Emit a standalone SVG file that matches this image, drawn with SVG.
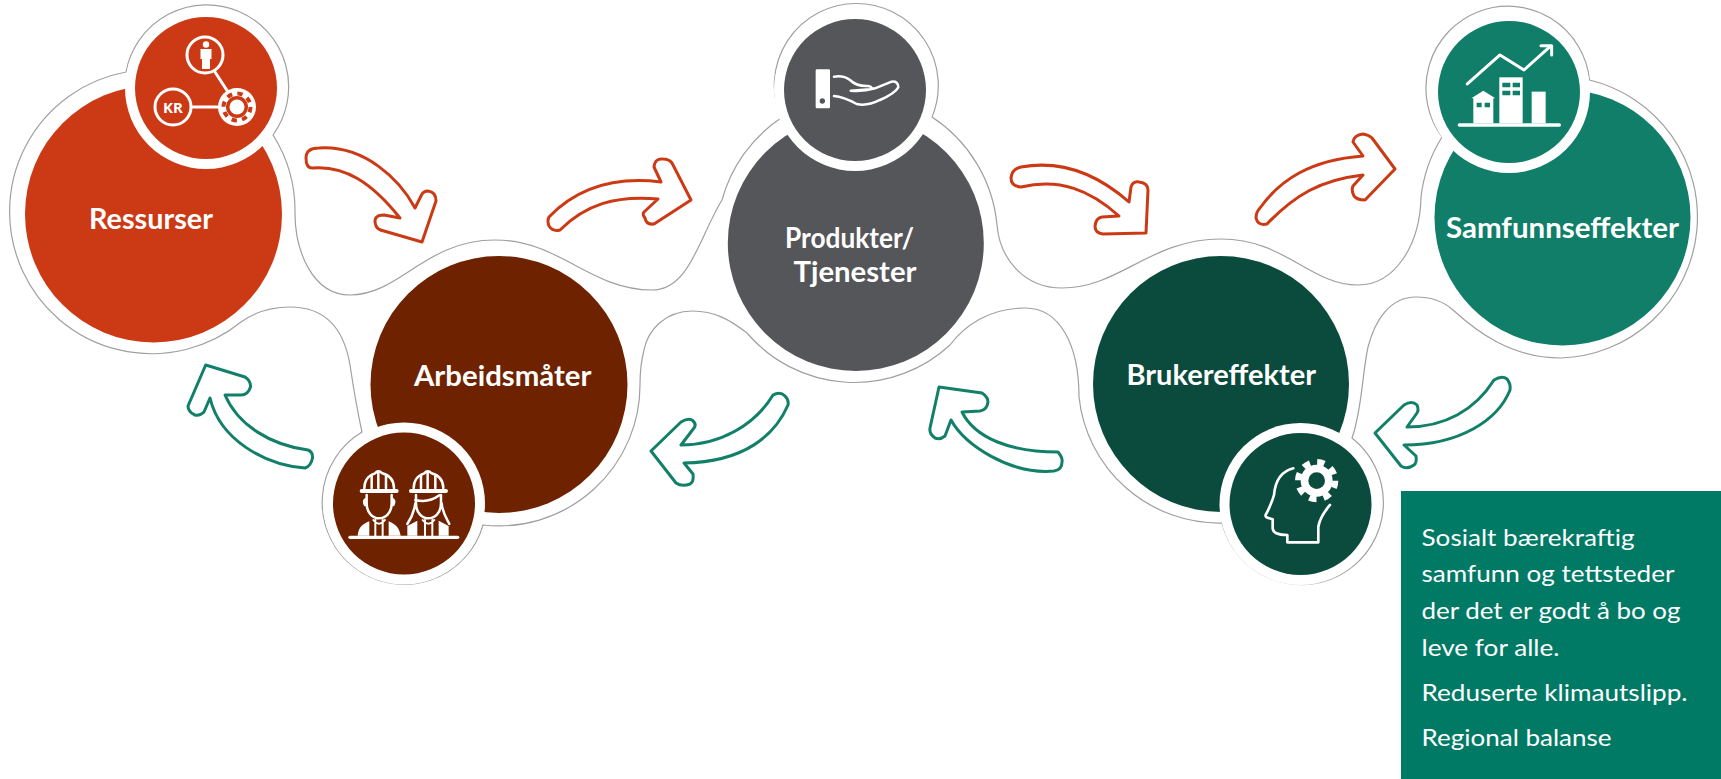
<svg xmlns="http://www.w3.org/2000/svg" width="1721" height="779" viewBox="0 0 1721 779">
<style>
.lbl{font-family:"Lato","Noto Sans","Liberation Sans",sans-serif;font-weight:700;font-size:28px;fill:#fff}
.body{font-family:"Lato","Liberation Sans",sans-serif;font-size:24px;fill:#fff}
.ring{fill:#fff}
.arr{fill:#fff;stroke-width:3;stroke-linejoin:round}
.r{stroke:#cc3a15}.g{stroke:#128069}
.ic{fill:none;stroke:#fff;stroke-linecap:round;stroke-linejoin:round}
.w{fill:#fff}
</style>
<rect width="1721" height="779" fill="#fff"/>
<path id="ribbon" fill="#fff" stroke="#a0a0a0" stroke-width="1.200" d="M273 135 A142 142 0 0 1 295 213 C295 250 312 295 350 295 C400 295 425 240 495 240 C560 240 590 290 652 290 C690 290 700 235 722 200 A145 145 0 0 1 781 118 A82 82 0 1 1 932 117 A145 145 0 0 1 997 225 C1000 260 1025 288 1062 288 C1120 288 1150 239 1221 239 C1285 239 1310 285 1358 285 C1395 285 1420 245 1421 197 A144 144 0 0 1 1442 137 A82 82 0 1 1 1589.500 80 A141 141 0 0 1 1561 358 C1510 358 1475 330 1453 310 C1443 301 1430 297 1416 297 C1390 297 1375 320 1368 347 C1362 375 1362 410 1352 438 A82 82 0 1 1 1222 523 A141 141 0 0 1 1079 397 C1079 345 1060 308 1025 308 C990 308 965 325 950 345 A141 141 0 0 1 747 333 C730 320 715 311 692.500 311 C665 311 648 330 644 350 C641 362 640 372 640 384 A141 141 0 0 1 483 525 A82 82 0 1 1 362 432 C356 405 353 385 350 365 C345 335 330 307 290 307 C270 307 255 312 241 322 A142 142 0 1 1 126 72 A82 82 0 1 1 273 135 Z"/>
<g id="connectors">
<path class="arr r" d="M312 168 C345 165 372 183 400 218 L384 215 Q372 215 376 226 Q378 230 384 231 L422 242 L436 201 Q436 192 428 191 Q423 191 421 196 L415 208 C400 180 365 145 319 148 Q306 148 306 158 Q306 168 312 168 Z"/>
<path class="arr r" d="M549 217 C575 190 612 176 661 182 L654 167 Q655 158 663 159 Q669 159 672 163 L691 200 L654 224 Q646 225 645 218 Q642 214 644 212 L658 199 C615 195 585 205 560 230 Q553 232 549 226 Q547 221 549 217 Z"/>
<path class="arr r" d="M1021 167 C1060 160 1095 172 1129 202 L1131 187 Q1133 181 1139 182 Q1148 183 1148 190 L1146 233 L1103 234 Q1095 233 1095 226 Q1096 218 1102 217 L1119 216 C1090 190 1060 178 1021 187 Q1011 186 1011 178 Q1012 169 1021 167 Z"/>
<path class="arr r" d="M1260 208 C1280 180 1310 160 1363 156 L1353 142 Q1354 135 1363 134 Q1369 135 1372 138 L1395 169 L1365 200 Q1357 200 1354 196 Q1351 190 1353 186 L1363 175 C1320 180 1295 195 1267 224 Q1258 226 1256 218 Q1256 212 1260 208 Z"/>
<path class="arr g" d="M1494 380 Q1502 375 1507 379 Q1511 384 1510 390 C1498 420 1460 445 1404 445 L1416 456 Q1417 463 1414 465 Q1407 470 1401 466 L1375 433 L1404 405 Q1412 400 1417 405 Q1419 410 1417 413 L1407 427 C1445 427 1475 410 1494 380 Z"/>
<path class="arr g" d="M1058 452 Q1063 458 1062 462 Q1062 470 1054 471 C1010 475 965 445 951 420 L945 436 Q940 440 935 438 Q929 434 930 428 L939 387 L982 393 Q988 397 988 402 Q987 410 980 411 L962 412 C975 438 1010 452 1058 452 Z"/>
<path class="arr g" d="M773 395 Q780 391 785 396 Q789 400 788 405 C775 435 745 462 684 463 L693 474 Q694 482 690 484 Q682 487 676 483 L651 451 L681 422 Q688 418 692 420 Q697 424 694 428 L681 445 C720 445 755 425 773 395 Z"/>
<path class="arr g" d="M305 468 C265 465 220 440 210 398 L204 412 Q200 416 195 415 Q188 412 188 406 L205.700 365 L245 377 Q251 381 250.500 387 Q248 395 241 395 L225 395 C238 425 270 445 308 450 Q313 452 312.500 458 Q311 466 305 468 Z"/>
</g>
<g id="ressurser">
<circle cx="153.500" cy="214" r="128.500" fill="#cc3a15"/>
<circle class="ring" cx="206" cy="88" r="81"/>
<circle cx="206" cy="88" r="71" fill="#cc3a15"/>
<text class="lbl" x="89" y="229" textLength="124" lengthAdjust="spacingAndGlyphs">Ressurser</text>
<g id="icon-ressurser">
<path class="ic" stroke-width="3" d="M215 72 L228 92 M192 107 H220"/>
<circle class="ic" stroke-width="3" cx="205" cy="55" r="18"/>
<circle class="ic" stroke-width="3" cx="173" cy="107" r="18"/>
<circle class="w" cx="237" cy="107" r="19"/>
<circle cx="237" cy="107" r="11" fill="#cc3a15"/>
<circle cx="237" cy="107" r="13.500" fill="none" stroke="#cc3a15" stroke-width="4" stroke-dasharray="5.300 5.300"/>
<circle class="w" cx="237" cy="107" r="7.500"/>
<circle class="w" cx="206" cy="44.500" r="3.200"/>
<path class="w" d="M200.500 49 H211.500 V59 H210 V69 H202 V59 H200.500 Z"/>
<text x="173" y="112.500" text-anchor="middle" font-family="Noto Sans,Liberation Sans,sans-serif" font-weight="700" font-size="15" fill="#fff">KR</text>
</g>
</g>
<g id="arbeidsmater">
<circle cx="499" cy="384.500" r="128.500" fill="#6e2200"/>
<circle class="ring" cx="404" cy="503.500" r="81"/>
<circle cx="404" cy="503.500" r="71" fill="#6e2200"/>
<text class="lbl" x="414" y="386" textLength="177.500" lengthAdjust="spacingAndGlyphs">Arbeidsmåter</text>
<g id="icon-arbeidsmater" transform="translate(310 420) scale(.3333)">
<path class="ic" stroke-width="10" d="M120 352 H443"/>
<path class="ic" stroke-width="12" d="M155 213 H260 M303 213 H408"/>
<path class="ic" stroke-width="7.500" d="M163 205 C163 178 180 165 195 160 Q205 148 217 160 C235 165 252 178 252 205 M185 205 V168 M205 205 V160 M228 205 V168"/>
<path class="ic" stroke-width="7.500" d="M311 205 C311 178 328 165 343 160 Q353 148 365 160 C383 165 400 178 400 205 M333 205 V168 M353 205 V160 M376 205 V168"/>
<path class="ic" stroke-width="7.500" d="M170 225 V250 C170 280 190 295 207 295 C225 295 245 280 245 250 V225 M170 235 Q158 240 165 255 M245 235 Q257 240 250 255"/>
<path class="ic" stroke-width="7.500" d="M318 225 V250 C318 280 338 295 355 295 C373 295 393 280 393 250 V225 M316 240 Q355 250 388 226 M316 250 C312 280 300 300 292 312 M395 250 C398 280 410 295 418 312"/>
<path class="w" d="M143 347 C145 322 158 312 178 304 V347 Z M236 304 C255 312 268 322 272 347 H236 Z M292 347 V318 L322 302 V347 Z M386 302 L416 318 V347 H386 Z"/>
<path class="ic" stroke-width="6" d="M190 300 Q207 322 225 300 M338 300 Q355 322 373 300 M196 347 V300 M218 347 V300 M345 347 V300 M367 347 V300"/>
</g>
</g>
<g id="produkter">
<circle cx="855.800" cy="243" r="128" fill="#55565a"/>
<circle class="ring" cx="855" cy="90" r="81"/>
<circle cx="855" cy="90" r="71" fill="#55565a"/>
<text class="lbl" x="785" y="248" textLength="129" lengthAdjust="spacingAndGlyphs">Produkter/</text>
<text class="lbl" x="793.500" y="282" textLength="123" lengthAdjust="spacingAndGlyphs">Tjenester</text>
<g id="icon-produkter" transform="translate(760 0) scale(.3333)">
<rect class="w" x="167" y="208" width="43" height="117" rx="4"/>
<circle cx="187" cy="303" r="8" fill="#55565a"/>
<path class="ic" stroke-width="7.500" d="M222 230 Q250 225 270 240 Q290 260 325 258 Q342 262 330 268 L272 272 Q310 275 345 265 L395 245 Q415 243 415 262 Q405 280 360 300 Q320 320 290 312 Q250 290 222 288"/>
</g>
</g>
<g id="brukereffekter">
<circle cx="1221" cy="384" r="128" fill="#0a4b3d"/>
<circle class="ring" cx="1300.500" cy="504" r="81"/>
<circle cx="1300.500" cy="504" r="71" fill="#0a4b3d"/>
<text class="lbl" x="1126.400" y="385" textLength="189.600" lengthAdjust="spacingAndGlyphs">Brukereffekter</text>
<g id="icon-brukereffekter" transform="translate(1200 420) scale(.3333)">
<path class="ic" stroke-width="8" d="M280 145 C240 155 225 190 222 225 C215 250 205 270 197 285 Q195 292 208 295 L218 298 V325 Q220 345 262 345 V367 H355 V320 Q360 290 390 255"/>
<circle cx="350" cy="182" r="48" class="w"/>
<circle cx="350" cy="182" r="56" fill="none" stroke="#fff" stroke-width="18" stroke-dasharray="22 21.980"/>
<circle cx="350" cy="182" r="25" fill="#0a4b3d"/>
</g>
</g>
<g id="samfunnseffekter">
<circle cx="1562.500" cy="217.500" r="128" fill="#107e68"/>
<circle class="ring" cx="1509" cy="92" r="81"/>
<circle cx="1509" cy="92" r="71" fill="#107e68"/>
<text class="lbl" x="1446" y="238" textLength="233" lengthAdjust="spacingAndGlyphs">Samfunnseffekter</text>
<g id="icon-samfunnseffekter" transform="translate(1410 0) scale(.3333)">
<path class="ic" stroke-width="10" d="M148 375 H448"/>
<path class="ic" stroke-width="9" d="M172 252 L270 165 L342 210 L420 140 M393 137 H425 V165"/>
<path class="w" d="M190 370 V295 H184 L220 272 L256 295 H250 V370 Z"/>
<rect class="w" x="268" y="232" width="70" height="138"/>
<rect class="w" x="365" y="275" width="42" height="95"/>
<path fill="#107e68" d="M200 308 H215 V322 H200 Z M224 308 H240 V322 H224 Z M277 248 H301 V262 H277 Z M308 248 H330 V262 H308 Z M277 272 H301 V286 H277 Z M308 272 H330 V286 H308 Z"/>
</g>
</g>
<g id="infoboks">
<rect x="1401" y="491" width="320" height="288" fill="#007a65"/>
<text class="body" x="1421.500" y="546" textLength="213" lengthAdjust="spacingAndGlyphs">Sosialt bærekraftig</text>
<text class="body" x="1421.500" y="582" textLength="253" lengthAdjust="spacingAndGlyphs">samfunn og tettsteder</text>
<text class="body" x="1421.500" y="619" textLength="259" lengthAdjust="spacingAndGlyphs">der det er godt å bo og</text>
<text class="body" x="1421.500" y="656" textLength="138" lengthAdjust="spacingAndGlyphs">leve for alle.</text>
<text class="body" x="1421.500" y="701" textLength="266" lengthAdjust="spacingAndGlyphs">Reduserte klimautslipp.</text>
<text class="body" x="1421.500" y="746" textLength="190" lengthAdjust="spacingAndGlyphs">Regional balanse</text>
</g>
</svg>
